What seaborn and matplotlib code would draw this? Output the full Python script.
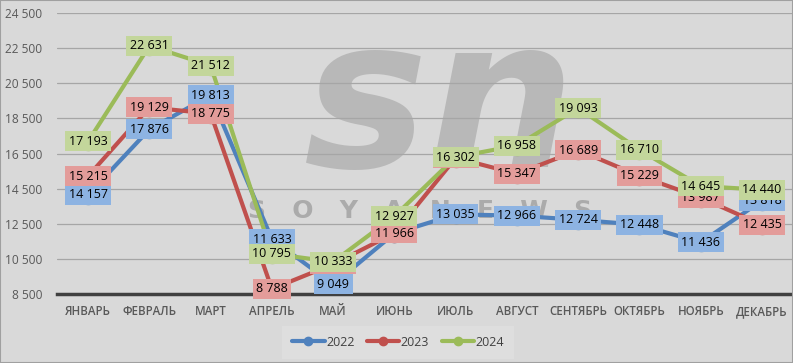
import matplotlib
matplotlib.use("Agg")
import matplotlib.pyplot as plt
import seaborn as sns
import pandas as pd
from matplotlib.lines import Line2D

months = ["ЯНВАРЬ", "ФЕВРАЛЬ", "МАРТ", "АПРЕЛЬ", "МАЙ", "ИЮНЬ", "ИЮЛЬ",
          "АВГУСТ", "СЕНТЯБРЬ", "ОКТЯБРЬ", "НОЯБРЬ", "ДЕКАБРЬ"]
v2022 = [14157, 17876, 19813, 11633, 9049, 11950, 13035, 12966, 12724, 12448, 11436, 13818]
v2023 = [15215, 19129, 18775, 8788, 10200, 11966, 16250, 15347, 16689, 15229, 13987, 12435]
v2024 = [17193, 22631, 21512, 10795, 10333, 12927, 16302, 16958, 19093, 16710, 14645, 14440]
years = ["2022", "2023", "2024"]
yticks = [8500, 10500, 12500, 14500, 16500, 18500, 20500, 22500, 24500]

line_colors = {"2022": "#4f81bd", "2023": "#c0504d", "2024": "#9bbb59"}
box_colors = {"2022": "#8db3e2", "2023": "#e39c9a", "2024": "#c3d69b"}

rows = []
for y, vals in zip(years, [v2022, v2023, v2024]):
    for i, v in enumerate(vals):
        rows.append({"idx": i, "value": v, "year": y})
df = pd.DataFrame(rows)

sns.set_theme(style="white")
plt.rcParams["font.family"] = ["Open Sans", "DejaVu Sans"]

bg = "#d9d9d9"
fig = plt.figure(figsize=(7.93, 3.63), dpi=100, facecolor=bg)
ax = fig.add_axes([0.0725, 0.19, 0.927, 0.774])
ax.set_facecolor(bg)

# watermark (behind everything in the axes)
ax.text(0.555, 0.70, "sn", fontsize=150, fontstyle="italic", fontweight="bold",
        color="#b8b8b8", ha="center", va="center", zorder=0.3,
        transform=fig.transFigure, family="DejaVu Sans")
ax.text(0.53, 0.42, "S   O   Y   A   N   E   W   S", fontsize=18, fontweight="bold",
        color="#ababab", ha="center", va="center", zorder=0.3,
        transform=fig.transFigure, family="DejaVu Sans")

sns.lineplot(data=df, x="idx", y="value", hue="year", palette=line_colors,
             marker="o", markersize=14, markeredgewidth=0, linewidth=3,
             legend=False, ax=ax)
for l in ax.lines:
    l.set_zorder(2)

for y, vals in zip(years, [v2022, v2023, v2024]):
    for i, v in enumerate(vals):
        lab = f"{v:,}".replace(",", " ")
        ax.text(i, v, lab, ha="center", va="center", fontsize=9, color="black",
                zorder=6,
                bbox=dict(boxstyle="square,pad=0.28", fc=box_colors[y], ec="none"))

ax.set_xlim(-0.5, 11.5)
ax.set_ylim(8500, 24500)
ax.set_yticks(yticks)
ax.set_yticklabels([f"{t:,}".replace(",", " ") for t in yticks], fontsize=8.6, color="#595959")
ax.set_xticks(range(12))
ax.set_xticklabels(months, fontsize=8.3, color="#595959", fontweight="semibold")
ax.tick_params(axis="x", length=0, pad=8)
ax.tick_params(axis="y", length=0, pad=11)
ax.yaxis.grid(True, color="#a6a6a6", linewidth=0.9)
ax.set_axisbelow(True)
for s in ["top", "right", "left"]:
    ax.spines[s].set_visible(False)
ax.spines["bottom"].set_color("#404040")
ax.spines["bottom"].set_linewidth(2.5)
ax.set_xlabel("")
ax.set_ylabel("")

handles = [Line2D([0], [0], color=line_colors[y], lw=3, marker="o", markersize=6) for y in years]
leg = fig.legend(handles, years, loc="center", bbox_to_anchor=(0.502, 0.057), ncol=3,
                 frameon=True, fontsize=9, handlelength=2.6, columnspacing=1.0,
                 handletextpad=0.1, borderpad=0.5)
leg.get_frame().set_facecolor("#e0e0e0")
leg.get_frame().set_edgecolor("none")
leg.get_frame().set_boxstyle("square")
for t in leg.get_texts():
    t.set_color("#404040")

fig.patches.append(plt.Rectangle((0, 0), 1, 1, transform=fig.transFigure, fill=False,
                                 ec="#a0a0a0", lw=1.5, zorder=10))

fig.savefig("out.png", dpi=100, facecolor=bg)
